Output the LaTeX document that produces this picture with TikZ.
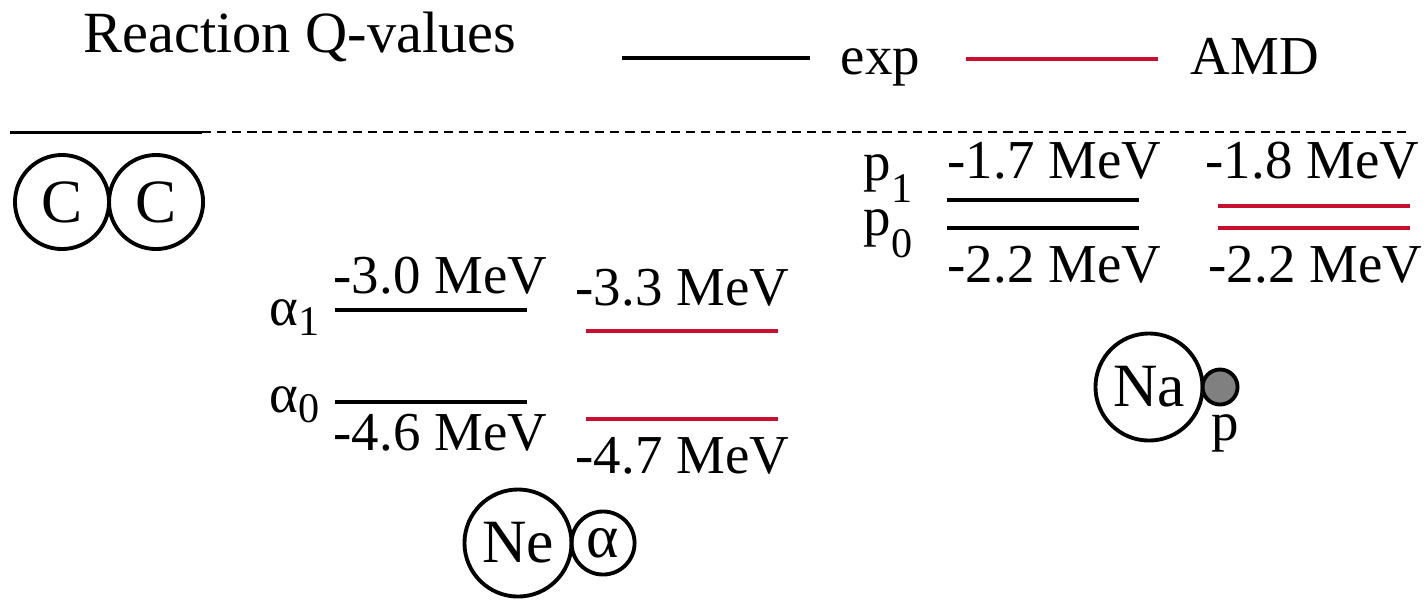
\documentclass[tikz,border=0pt]{standalone}
\usepackage{fontspec}
\setmainfont{LiberationSerif}[Extension=.ttf,UprightFont=*-Regular,BoldFont=*-Bold,ItalicFont=*-Italic]
\newfontfamily\timesfont{LiberationSerif}[Extension=.ttf,UprightFont=*-Regular]
\usetikzlibrary{positioning}
\definecolor{amdred}{RGB}{200,16,46}
\newcommand{\chan}[3]{#1\raisebox{#3}{\fontsize{12}{14}\selectfont #2}}

\begin{document}
\begin{tikzpicture}[x=0.01cm,y=-0.01cm,
  every node/.style={inner sep=0pt,font=\timesfont\fontsize{15.6}{18}\selectfont},
  explev/.style={line width=1.4pt},
  amdlev/.style={line width=1.4pt,draw=amdred},
  nucleus/.style={draw,circle,line width=1.1pt,inner sep=0pt,outer sep=0pt,
    font=\timesfont\fontsize{17.5}{20}\selectfont}]
\useasboundingbox (0,0) rectangle (1428,599);

% title and legend
\node[anchor=base,font=\timesfont\fontsize{16.6}{20}\selectfont] (title) at (300,52) {Reaction Q-values};
\coordinate (expL) at (622,58);
\coordinate (expR) at (810,58);
\draw[explev] (expL) -- (expR);
\node[anchor=base west] (expT) at (840,74) {exp};
\coordinate (amdL) at (966,59);
\coordinate (amdR) at (1158,59);
\draw[amdlev] (amdL) -- (amdR);
\node[anchor=base west] (amdT) at (1190,74) {AMD};

% threshold C+C
\coordinate (thrA) at (10,132);
\coordinate (thrB) at (202,132);
\coordinate (thrC) at (1410,132);
\draw[line width=0.85pt] (thrA) -- (thrB);
\draw[line width=0.6pt,dash pattern=on 2.6pt off 1.7pt] (thrB) -- (thrC);
\node[nucleus,minimum size=0.94cm] (c1) at (62,202) {C};
\node[nucleus,minimum size=0.94cm,right=0pt of c1] (c2) {C};

% alpha channel
\coordinate (a1L) at (335,310);
\coordinate (a1R) at (527,310);
\coordinate (a0L) at (335,402);
\coordinate (a0R) at (527,402);
\draw[explev] (a1L) -- (a1R);
\draw[explev] (a0L) -- (a0R);
\node[anchor=base west] (a1q) at (333,293) {-3.0 MeV};
\node[anchor=base west] (a0q) at (333,450) {-4.6 MeV};
\node[anchor=base east] (a1n) at (320,325) {\chan{α}{1}{-3.1pt}};
\node[anchor=base east] (a0n) at (320,412) {\chan{α}{0}{-3.1pt}};
\coordinate (r1L) at (586,331);
\coordinate (r1R) at (778,331);
\coordinate (r0L) at (586,419);
\coordinate (r0R) at (778,419);
\draw[amdlev] (r1L) -- (r1R);
\draw[amdlev] (r0L) -- (r0R);
\node[anchor=base west] (r1q) at (575,305) {-3.3 MeV};
\node[anchor=base west] (r0q) at (575,473) {-4.7 MeV};
\node[nucleus,minimum size=1.07cm] (ne) at (518,543) {Ne};
\node[nucleus,minimum size=0.63cm,right=0pt of ne] (alp) {α};

% proton channel
\coordinate (p1L) at (947,200);
\coordinate (p1R) at (1139,200);
\coordinate (p0L) at (947,228);
\coordinate (p0R) at (1139,228);
\draw[explev] (p1L) -- (p1R);
\draw[explev] (p0L) -- (p0R);
\node[anchor=base west] (p1q) at (947,178) {-1.7 MeV};
\node[anchor=base west] (p0q) at (947,282) {-2.2 MeV};
\node[anchor=base west] (p1n) at (863,180) {\chan{p}{1}{-6.3pt}};
\node[anchor=base west] (p0n) at (863,235) {\chan{p}{0}{-6.5pt}};
\coordinate (s1L) at (1218,206);
\coordinate (s1R) at (1410,206);
\coordinate (s0L) at (1218,228);
\coordinate (s0R) at (1410,228);
\draw[amdlev] (s1L) -- (s1R);
\draw[amdlev] (s0L) -- (s0R);
\node[anchor=base west] (s1q) at (1205,178) {-1.8 MeV};
\node[anchor=base west] (s0q) at (1208,282) {-2.2 MeV};
\node[nucleus,minimum size=1.07cm] (na) at (1149,387) {Na};
\node[nucleus,minimum size=0.35cm,fill=black!50,right=0pt of na] (pr) {};
\node[anchor=base] (plab) at (1225,440) {p};
\end{tikzpicture}
\end{document}
